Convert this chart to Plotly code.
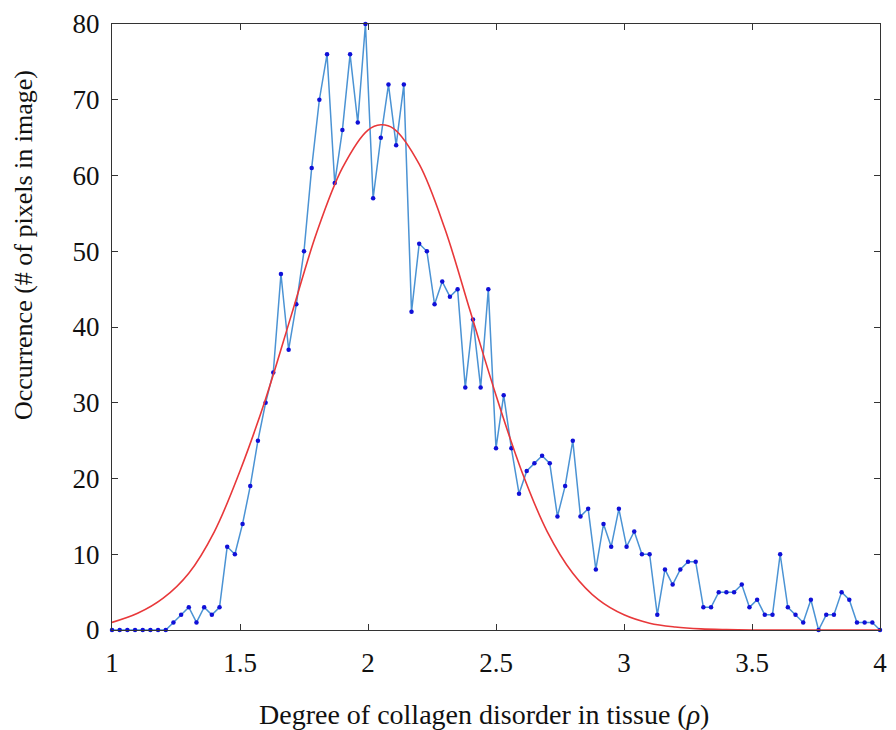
import plotly.graph_objects as go

# Histogram data: x from 1 to 4 in steps of 0.03
x_start = 1.0
x_step = 0.03
counts = [0, 0, 0, 0, 0, 0, 0, 0, 1, 2,
          3, 1, 3, 2, 3, 11, 10, 14, 19, 25,
          30, 34, 47, 37, 43, 50, 61, 70, 76, 59,
          66, 76, 67, 80, 57, 65, 72, 64, 72, 42,
          51, 50, 43, 46, 44, 45, 32, 41, 32, 45,
          24, 31, 24, 18, 21, 22, 23, 22, 15, 19,
          25, 15, 16, 8, 14, 11, 16, 11, 13, 10,
          10, 2, 8, 6, 8, 9, 9, 3, 3, 5,
          5, 5, 6, 3, 4, 2, 2, 10, 3, 2,
          1, 4, 0, 2, 2, 5, 4, 1, 1, 1, 0]
rho = [round(x_start + x_step * i, 2) for i in range(len(counts))]

# Fitted curve values
fit_x = [1.0, 1.1, 1.2, 1.3, 1.4, 1.5, 1.6, 1.7, 1.8, 1.9, 2.0, 2.05, 2.1,
         2.2, 2.3, 2.4, 2.5, 2.6, 2.7, 2.8, 2.9, 3.0, 3.1, 3.2, 3.3, 3.4,
         3.5, 3.6, 3.7, 3.8, 3.9, 4.0]
fit_y = [1.0, 2.2, 4.2, 7.5, 13.0, 21.0, 30.5, 41.5, 52.5, 61.0, 66.0, 66.7, 66.2,
         61.5, 53.0, 42.0, 31.0, 21.0, 13.0, 7.5, 4.0, 2.0, 0.9, 0.4, 0.15, 0.05,
         0.0, 0.0, 0.0, 0.0, 0.0, 0.0]

x_ticks = [1, 1.5, 2, 2.5, 3, 3.5, 4]
y_ticks = [0, 10, 20, 30, 40, 50, 60, 70, 80]

FONT = "Liberation Serif, Times New Roman, serif"

fig = go.Figure()
fig.add_trace(go.Scatter(
    x=rho, y=counts, mode="lines+markers",
    line=dict(color="#4b93d4", width=1.5),
    marker=dict(color="#1010d8", size=4.5, symbol="circle"),
    showlegend=False, cliponaxis=False,
))
fig.add_trace(go.Scatter(
    x=fit_x, y=fit_y, mode="lines",
    line=dict(color="#e8383a", width=1.6, shape="spline", smoothing=1.0),
    showlegend=False,
))

axis_common = dict(
    showline=True, linecolor="#333333", linewidth=1.2, mirror="ticks",
    ticks="inside", ticklen=6, tickcolor="#333333", tickwidth=1,
    showgrid=False, zeroline=False,
    tickfont=dict(family=FONT, size=27, color="#111111"),
)

fig.update_layout(
    width=896, height=730,
    margin=dict(l=112, r=9, t=16, b=100),
    paper_bgcolor="white", plot_bgcolor="white",
    xaxis=dict(range=[1, 4], tickvals=x_ticks, ticktext=[str(v) for v in x_ticks],
               ticklabelstandoff=8, **axis_common),
    yaxis=dict(range=[0, 80], tickvals=y_ticks, ticktext=[str(v) for v in y_ticks],
               ticklabelstandoff=6, **axis_common),
    annotations=[
        dict(text="Degree of collagen disorder in tissue (<i>ρ</i>)", xref="paper", yref="paper",
             x=0.485, y=-0.139, xanchor="center", yanchor="middle", showarrow=False,
             font=dict(family=FONT, size=28, color="#111111")),
        dict(text="Occurrence (# of pixels in image)", xref="paper", yref="paper",
             x=-0.116, y=0.635, xanchor="center", yanchor="middle", textangle=-90,
             showarrow=False, font=dict(family=FONT, size=26, color="#111111")),
    ],
)

fig.write_html("out.html")
